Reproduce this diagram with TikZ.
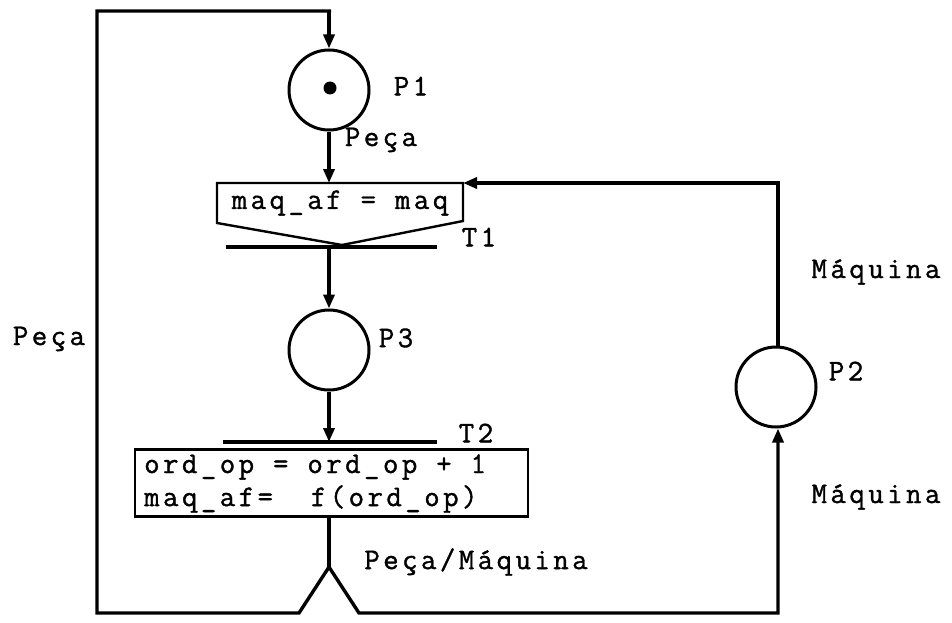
\documentclass[tikz,border=0pt]{standalone}
\usepackage{fontspec}
\newfontfamily\twfont{Latin Modern Mono}[LetterSpace=11.5,FakeBold=1.2]
\usetikzlibrary{arrows.meta}
\begin{document}
\begin{tikzpicture}[x=1pt,y=-1pt,
  place/.style={circle,draw,line width=3pt,minimum size=80pt,inner sep=0pt},
  bar/.style={rectangle,fill,minimum height=4pt,inner sep=0pt},
  lbl/.style={font=\twfont\fontsize{30}{32}\selectfont,inner sep=0pt},
  arc/.style={line width=3.4pt},
  tip/.style={-{Triangle[length=14pt,width=11pt]}},
  boxline/.style={line width=2.4pt,line join=miter}]
\useasboundingbox (0,0) rectangle (952,623);

% places
\node[place] (P1) at (329,90) {};
\fill (330,88) circle (6.5pt);
\node[place] (P3) at (329,350) {};
\node[place] (P2) at (776,387) {};

% transitions
\node[bar,minimum width=211pt] (T1bar) at (331,247) {};
\node[bar,minimum width=214pt] (T2bar) at (330,442) {};

% T1 guard box
\coordinate (b1tl) at (217,183);
\coordinate (b1tr) at (463,183);
\coordinate (b1br) at (463,221);
\coordinate (b1bl) at (217,223);
\coordinate (b1ap) at (342,245);
\draw[boxline] (b1tl) -- (b1tr) -- (b1br) -- (b1ap) -- (b1bl) -- cycle;
\node[lbl] (g1) at (340,203) {maq\_af = maq};

% T2 action box
\node[draw,boxline,minimum width=393pt,minimum height=67pt,inner sep=0pt] (B2) at (331.5,483) {};
\node[lbl,anchor=west] (a1) at (144,467) {ord\_op = ord\_op + 1};
\node[lbl,anchor=west] (a2) at (144,499) {maq\_af=\ \ f(ord\_op)};

% split
\coordinate (ap) at (329,567);
\coordinate (vl) at (299,613);
\coordinate (vr) at (359,613);
\coordinate (bl) at (97,613);
\coordinate (tl) at (97,11);
\coordinate (tr) at (331,11);
\coordinate (br) at (778,613);
\coordinate (rt) at (778,183);

% connectors
\draw[arc,tip] (tr -| P1) -- (P1.north);
\draw[arc,line join=miter] (ap) -- (vl) -- (bl) -- (tl) -- (tr) -- (tr -| P1);
\draw[arc,line join=miter,tip] (ap) -- (vr) -- (br) -- (P2.south -| br);
\draw[arc,tip] (P1.south) -- (P1.south |- b1tl);
\draw[arc,tip] (T1bar.center -| P3) -- (P3.north);
\draw[arc,tip] (P3.south) -- (T2bar.center -| P3);
\draw[arc] (B2.south -| ap) -- (ap);
\draw[arc,line join=miter,tip] (P2.north -| rt) -- (rt) -- (b1tr);

% labels
\node[lbl] (lP1) at (411,86) {P1};
\node[lbl] (lPeca1) at (381,140) {Peça};
\node[lbl] (lT1) at (479,237) {T1};
\node[lbl] (lP3) at (396,338) {P3};
\node[lbl] (lT2) at (476,433) {T2};
\node[lbl] (lP2) at (846,371) {P2};
\node[lbl] (lPeca2) at (49,339) {Peça};
\node[lbl] (lM1) at (876,272) {Máquina};
\node[lbl] (lM2) at (876,497) {Máquina};
\node[lbl] (lPM) at (476,562) {Peça/Máquina};
\end{tikzpicture}
\end{document}
